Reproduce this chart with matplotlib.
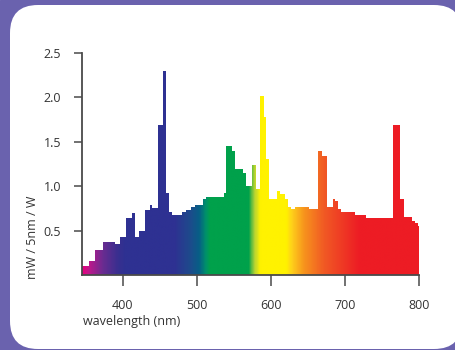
import matplotlib
matplotlib.use("Agg")
import matplotlib.pyplot as plt
from matplotlib.colors import LinearSegmentedColormap
from matplotlib.patches import FancyBboxPatch
import numpy as np

plt.rcParams['font.family'] = ['Open Sans', 'DejaVu Sans']

# bin edges (nm) and spectral power (mW / 5nm / W)
wl_edges = [345, 354, 362, 373, 390, 396, 404, 412, 416, 422,
            430, 437, 440, 448, 454, 459, 463, 466, 480, 486,
            492, 497, 508, 512, 537, 540, 547, 552, 562, 566,
            575, 580, 586, 591, 594, 597, 608, 612, 619, 623,
            627, 633, 651, 664, 669, 676, 684, 687, 690, 695,
            713, 728, 765, 775, 780, 790, 795, 798, 800]
power = [0.10, 0.16, 0.28, 0.37, 0.345, 0.43, 0.64, 0.70, 0.43, 0.49,
         0.73, 0.79, 0.75, 1.69, 2.29, 0.92, 0.71, 0.675, 0.71, 0.73,
         0.76, 0.79, 0.85, 0.88, 0.92, 1.45, 1.39, 1.19, 1.15, 1.00,
         1.24, 0.97, 2.01, 1.78, 1.30, 0.855, 0.94, 0.91, 0.85, 0.76,
         0.74, 0.76, 0.74, 1.39, 1.34, 0.76, 0.85, 0.83, 0.74, 0.705,
         0.675, 0.64, 1.69, 0.85, 0.65, 0.61, 0.58, 0.55]

x_ticks = [400, 500, 600, 700, 800]
y_ticks = [0.5, 1.0, 1.5, 2.0, 2.5]

# colour of the light at each wavelength
spectrum_nodes = [
    (345, '#E6007E'), (352, '#C4168B'), (372, '#6A2C91'), (392, '#3A2F8F'),
    (402, '#2E3192'), (470, '#2E3192'), (490, '#1E4A8C'), (503, '#075E86'),
    (512, '#00916A'), (518, '#00A14B'), (570, '#00A14B'), (578, '#B5D334'),
    (586, '#FFF200'), (621, '#FFF200'), (628, '#FFD21A'), (645, '#F7941D'),
    (672, '#F15A24'), (720, '#ED1C24'), (800, '#ED1C24'),
]

x_lo, x_hi = 345, 800
cmap = LinearSegmentedColormap.from_list(
    'spec', [((w - x_lo) / (x_hi - x_lo), c) for w, c in spectrum_nodes])

W, H = 456, 350
fig = plt.figure(figsize=(W / 100, H / 100), dpi=100)

# background frame with rounded white panel
bg = fig.add_axes([0, 0, 1, 1])
bg.set_xlim(0, W)
bg.set_ylim(H, 0)
bg.axis('off')
bg.add_patch(plt.Rectangle((0, 0), W, H, color='#6A62AE'))
bg.add_patch(FancyBboxPatch((10, 5), 452, 344,
                            boxstyle='round,pad=0,rounding_size=28',
                            fc='white', ec='none'))

ax = fig.add_axes([82 / W, 1 - 275 / H, (419 - 82) / W, (275 - 52.7) / H])
ax.patch.set_alpha(0)

# spectrum shape, filled by a wavelength gradient
shape = ax.stairs(power, wl_edges, fill=True, fc='none', ec='none')
grad = np.linspace(0, 1, 600).reshape(1, -1)
im = ax.imshow(grad, cmap=cmap, aspect='auto',
               extent=[x_lo, x_hi, 0, 2.5], interpolation='bilinear')
im.set_clip_path(shape)

ax.set_xlim(x_lo, x_hi)
ax.set_ylim(0, 2.5)
ax.set_xticks(x_ticks)
ax.set_yticks(y_ticks)
ax.set_yticklabels([f'{v:.1f}' for v in y_ticks])

for s in ['top', 'right']:
    ax.spines[s].set_visible(False)
for s in ['left', 'bottom']:
    ax.spines[s].set_color('#4a4a4a')
    ax.spines[s].set_linewidth(1.3)
ax.tick_params(axis='x', length=8, width=1.1, color='#4a4a4a',
               pad=9, labelsize=9, labelcolor='#333333')
ax.tick_params(axis='y', length=6, width=1.1, color='#4a4a4a',
               pad=9, labelsize=9, labelcolor='#333333')

fig.text(33 / W, 1 - 237 / H, 'mW / 5nm / W', rotation=90,
         ha='center', va='center', fontsize=9, color='#333333')
fig.text(83 / W, 1 - 321 / H, 'wavelength (nm)',
         ha='left', va='center', fontsize=9, color='#333333')

fig.savefig('out.png', dpi=100)
